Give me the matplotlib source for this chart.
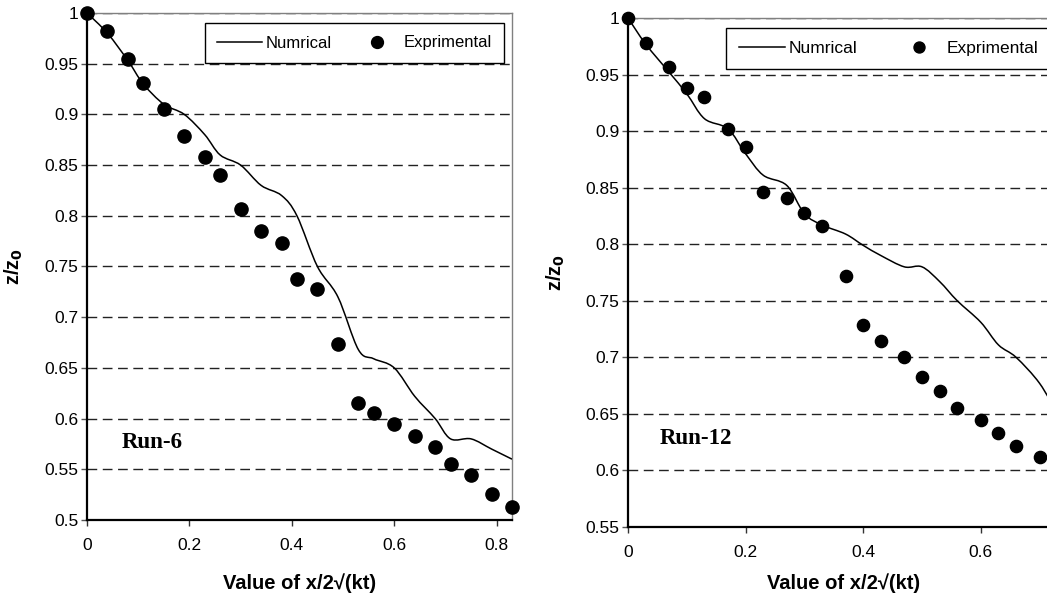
import numpy as np
import matplotlib
matplotlib.use("Agg")
import matplotlib.pyplot as plt
from matplotlib.path import Path
from matplotlib.patches import PathPatch
from matplotlib.lines import Line2D

plt.rcParams["font.family"] = ["Liberation Sans", "DejaVu Sans"]
plt.rcParams["lines.scale_dashes"] = False

# Run-6 data
run6_x = [0, 0.04, 0.08, 0.11, 0.15, 0.19, 0.23, 0.26, 0.30, 0.34, 0.38, 0.41,
          0.45, 0.49, 0.53, 0.56, 0.60, 0.64, 0.68, 0.71, 0.75, 0.79, 0.83]
run6_exp = [1.0, 0.982, 0.955, 0.931, 0.905, 0.879, 0.858, 0.840, 0.807, 0.785,
            0.773, 0.738, 0.728, 0.674, 0.615, 0.606, 0.595, 0.583, 0.572, 0.555,
            0.544, 0.526, 0.513]
run6_num = [1.0, 0.98, 0.953, 0.93, 0.91, 0.90, 0.88, 0.86, 0.85, 0.83, 0.82, 0.80,
            0.75, 0.72, 0.668, 0.659, 0.65, 0.622, 0.60, 0.58, 0.58, 0.57, 0.56]

# Run-12 data
run12_x = [0, 0.03, 0.07, 0.10, 0.13, 0.17, 0.20, 0.23, 0.27, 0.30, 0.33, 0.37,
           0.40, 0.43, 0.47, 0.50, 0.53, 0.56, 0.60, 0.63, 0.66, 0.70]
run12_exp = [1.0, 0.978, 0.957, 0.938, 0.930, 0.902, 0.886, 0.846, 0.841, 0.828,
             0.816, 0.772, 0.729, 0.714, 0.700, 0.683, 0.670, 0.655, 0.645, 0.633,
             0.622, 0.612]
run12_num_x = run12_x + [0.73]
run12_num = [1.0, 0.977, 0.952, 0.933, 0.911, 0.902, 0.88, 0.861, 0.852, 0.827,
             0.817, 0.809, 0.799, 0.79, 0.78, 0.78, 0.767, 0.75, 0.731, 0.711,
             0.70, 0.677, 0.65]

xticks = [0, 0.2, 0.4, 0.6, 0.8]


def smooth_path(x, y):
    # Excel-style smoothed line: cubic Bezier through every point
    pts = np.column_stack([x, y])
    n = len(pts)
    verts = [pts[0]]
    codes = [Path.MOVETO]
    for i in range(n - 1):
        p0 = pts[max(i - 1, 0)]
        p1 = pts[i]
        p2 = pts[i + 1]
        p3 = pts[min(i + 2, n - 1)]
        verts += [p1 + (p2 - p0) / 6, p2 - (p3 - p1) / 6, p2]
        codes += [Path.CURVE4] * 3
    return Path(verts, codes)


def panel(ax, xmax, x, exp, num_x, num, ymin, run, run_xy, leg_anchor, ylab_x, xlab_y,
          msize, leg_fs, colspace):
    yt = np.arange(ymin, 1.0001, 0.05)
    ax.set_yticks(yt)
    ax.set_yticklabels(["%g" % round(v, 2) for v in yt])
    ax.set_xticks(xticks)
    ax.set_xticklabels(["%g" % v for v in xticks])
    # set limits after ticks, set_ticks would widen them
    ax.set_xlim(0, xmax)
    ax.set_ylim(ymin, 1.0)

    ax.grid(axis="y", color="#222222", linestyle=(0, (7, 4)), linewidth=1.0)
    ax.set_axisbelow(True)

    for s in ["left", "bottom"]:
        ax.spines[s].set_linewidth(1.6)
        ax.spines[s].set_color("black")
    for s in ["top", "right"]:
        ax.spines[s].set_linewidth(1.0)
        ax.spines[s].set_color("#808080")

    ax.tick_params(axis="y", direction="out", length=4, width=1, color="#555555",
                   labelsize=12.5, pad=2)
    ax.tick_params(axis="x", direction="out", length=4, width=1, color="#333333",
                   labelsize=12.5, pad=9)

    ax.add_patch(PathPatch(smooth_path(num_x, num), fill=False, edgecolor="black",
                           linewidth=1.1, transform=ax.transData, zorder=3))
    ax.plot(x, exp, linestyle="none", marker="o", markersize=msize, color="black",
            clip_on=False, zorder=4)

    ax.text(run_xy[0], run_xy[1], run, family=["Liberation Serif"], fontweight="bold",
            fontsize=16.5, va="baseline", ha="left")

    ax.set_xlabel("Value of x/2\u221a(kt)", fontsize=14.5, fontweight="bold")
    ax.set_ylabel("z/z$_\\mathbf{0}$", fontsize=14.5, fontweight="bold")
    ax.xaxis.set_label_coords(0.5, xlab_y)
    ax.yaxis.set_label_coords(ylab_x, 0.5)

    handles = [Line2D([], [], color="black", linewidth=1.1),
               Line2D([], [], linestyle="none", marker="o", markersize=msize * 0.9,
                      color="black")]
    leg = ax.legend(handles, ["Numrical", "Exprimental"], ncol=2, loc="upper right",
                    bbox_to_anchor=leg_anchor, bbox_transform=ax.figure.transFigure,
                    fontsize=leg_fs, frameon=True, fancybox=False, framealpha=1,
                    edgecolor="black", borderpad=0.75, handlelength=2.7,
                    handletextpad=0.2, columnspacing=colspace, borderaxespad=0)
    leg.get_frame().set_linewidth(1.0)


fig = plt.figure(figsize=(10.47, 5.98), dpi=100)
W, H = 1047, 598

ax1 = fig.add_axes([87 / W, 78 / H, 425 / W, 507 / H])
panel(ax1, 0.83, run6_x, run6_exp, run6_x, run6_num, 0.5, "Run-6", (0.068, 0.571),
      (504 / W, 1 - 23 / H), -0.146, -0.105, 9.5, 12, 1.4)

ax2 = fig.add_axes([628 / W, 71 / H, 431 / W, 509 / H])
panel(ax2, 0.733, run12_x, run12_exp, run12_num_x, run12_num, 0.55, "Run-12",
      (0.054, 0.623), (1051 / W, 1 - 28 / H), -0.142, -0.09, 8.8, 12.5, 2.2)

fig.savefig("out.png", dpi=100)
